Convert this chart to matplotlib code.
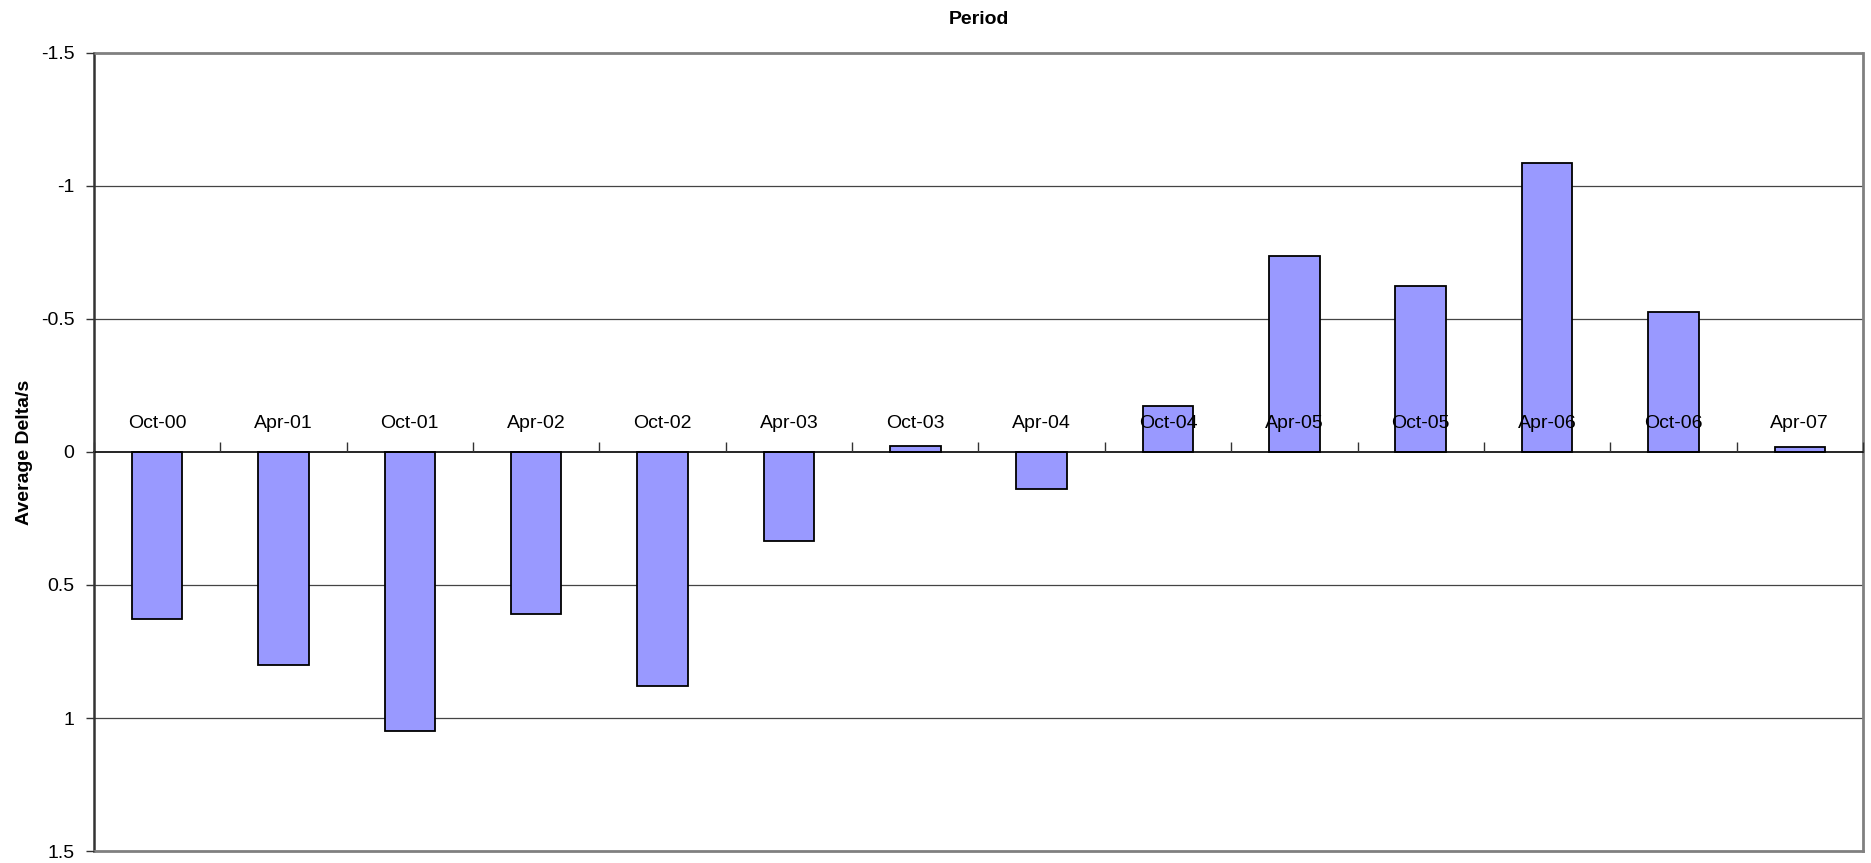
import numpy as np
import matplotlib
matplotlib.use('Agg')
import matplotlib.pyplot as plt
from matplotlib.patches import Rectangle

plt.rcParams['font.family'] = ['Liberation Sans', 'DejaVu Sans']

periods = ['Oct-00', 'Apr-01', 'Oct-01', 'Apr-02', 'Oct-02', 'Apr-03', 'Oct-03',
           'Apr-04', 'Oct-04', 'Apr-05', 'Oct-05', 'Apr-06', 'Oct-06', 'Apr-07']
avg_delta = [0.627, 0.800, 1.048, 0.610, 0.880, 0.333, -0.023,
             0.140, -0.172, -0.738, -0.623, -1.085, -0.525, -0.019]
yticks = [-1.5, -1, -0.5, 0, 0.5, 1, 1.5]
ytick_labels = ['-1.5', '-1', '-0.5', '0', '0.5', '1', '1.5']

fig = plt.figure(figsize=(18.71, 8.63), dpi=100)
ax = fig.add_axes([0.0502, 0.0139, 0.9455, 0.9247])
ax.set_axisbelow(False)

x = np.arange(len(periods))
ax.bar(x, avg_delta, width=0.4, color='#9999FF', edgecolor='black', linewidth=1.3, zorder=2)

# horizontal grid behind the bars
for v in yticks[1:-1]:
    if v != 0:
        ax.axhline(v, color='#444444', lw=0.9, zorder=0)

ax.set_xlim(-0.5, len(periods) - 0.5)
ax.set_ylim(1.5, -1.5)
ax.set_yticks(yticks)
ax.set_yticklabels(ytick_labels, fontsize=14)
ax.tick_params(axis='y', direction='out', length=6, width=1, color='#333333', pad=8)

# category axis sits on the zero line, labels above it
ax.spines['top'].set_position(('data', 0))
ax.spines['top'].set_color('black')
ax.spines['top'].set_linewidth(1.2)
ax.xaxis.tick_top()
ax.set_xticks(np.arange(len(periods) + 1) - 0.5)
ax.set_xticklabels([])
ax.set_xticks(x, minor=True)
ax.set_xticklabels(periods, minor=True, fontsize=14)
ax.tick_params(axis='x', which='major', direction='out', length=7, width=1, color='#333333')
ax.tick_params(axis='x', which='minor', length=0, pad=14.5)

ax.spines['left'].set_color('#333333')
ax.spines['left'].set_linewidth(1.8)
ax.spines['bottom'].set_color('#808080')
ax.spines['bottom'].set_linewidth(2)
ax.spines['right'].set_color('#808080')
ax.spines['right'].set_linewidth(2)
ax.add_patch(Rectangle((0, 1), 1, 0, transform=ax.transAxes, fill=False,
                       edgecolor='#808080', lw=2, clip_on=False, zorder=3))

ax.set_ylabel('Average Delta/s', fontsize=14, fontweight='bold')
ax.yaxis.set_label_coords(-0.0345, 0.5)
ax.set_title('Period', fontsize=14, fontweight='bold', pad=21)

fig.savefig('out.png', dpi=100)
